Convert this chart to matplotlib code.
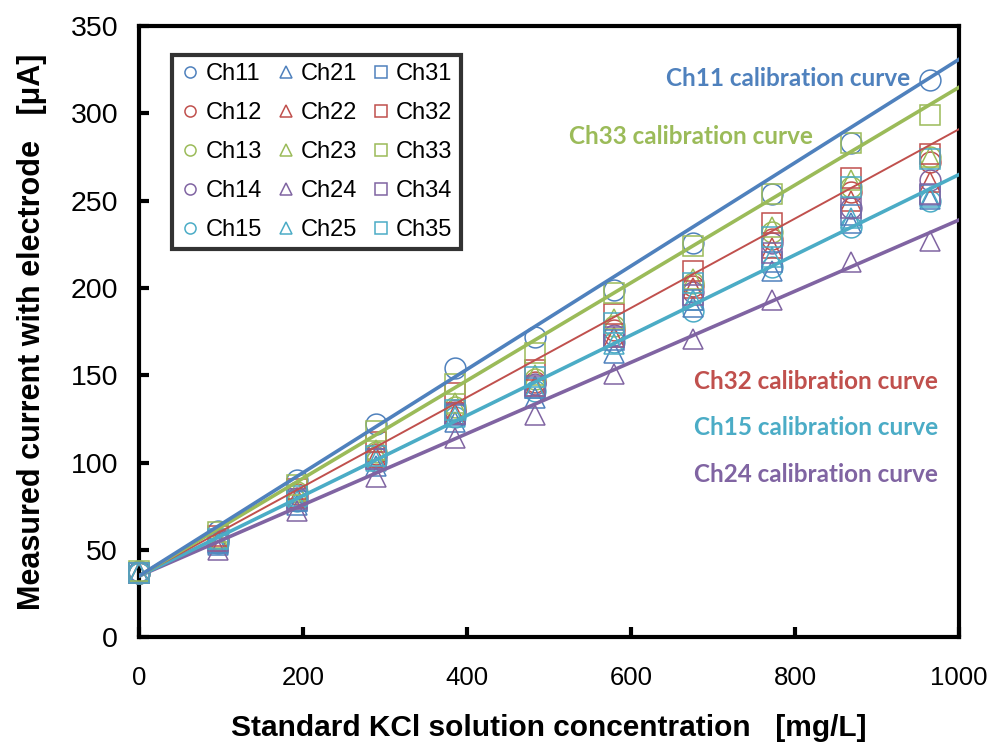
import matplotlib
matplotlib.use("Agg")
import matplotlib.pyplot as plt
from matplotlib.lines import Line2D

conc = [0, 96.5, 193, 289.5, 386, 482.5, 579, 675.5, 772, 868.5, 965]

ch11 = [38, 61, 90, 122, 154, 172, 199, 226, 254, 283, 319]
ch12 = [37, 56, 82, 105, 130, 146, 176, 201, 228, 255, 272]
ch13 = [37, 57, 83, 106, 132, 148, 178, 203, 232, 258, 275]
ch14 = [37, 55, 80, 103, 129, 145, 173, 198, 226, 246, 262]
ch15 = [37, 54, 78, 101, 126, 141, 169, 187, 212, 235, 250]
ch21 = [37, 53, 76, 98, 123, 137, 163, 189, 210, 237, 251]
ch22 = [37, 55, 80, 103, 128, 144, 172, 200, 223, 250, 261]
ch23 = [37, 57, 84, 107, 134, 150, 182, 205, 235, 262, 275]
ch24 = [37, 50, 72, 92, 114, 127, 151, 171, 193, 215, 227]
ch25 = [37, 54, 78, 101, 126, 143, 168, 193, 218, 240, 252]
ch31 = [37, 54, 78, 102, 127, 143, 170, 193, 215, 242, 253]
ch32 = [37, 58, 85, 112, 140, 153, 185, 210, 237, 263, 277]
ch33 = [38, 60, 87, 118, 145, 163, 197, 224, 254, 283, 299]
ch34 = [37, 55, 79, 102, 128, 144, 172, 196, 220, 246, 254]
ch35 = [37, 56, 81, 104, 130, 149, 180, 203, 229, 258, 274]

series_names = ["Ch11", "Ch12", "Ch13", "Ch14", "Ch15",
                "Ch21", "Ch22", "Ch23", "Ch24", "Ch25",
                "Ch31", "Ch32", "Ch33", "Ch34", "Ch35"]
series_values = [ch11, ch12, ch13, ch14, ch15,
                 ch21, ch22, ch23, ch24, ch25,
                 ch31, ch32, ch33, ch34, ch35]

# calibration curves (endpoints at x = 0 and 1000)
line_x = [0, 1000]
line_ch11 = [35, 331]
line_ch33 = [35, 315]
line_ch32 = [35, 291]
line_ch15 = [35, 265]
line_ch24 = [35, 239]

x_ticks = [0, 200, 400, 600, 800, 1000]
y_ticks = [0, 50, 100, 150, 200, 250, 300, 350]

BLUE = "#4F81BD"
RED = "#C0504D"
GREEN = "#9BBB59"
PURPLE = "#8064A2"
CYAN = "#4BACC6"
colors = [BLUE, RED, GREEN, PURPLE, CYAN]
markers = ["o", "^", "s"]

fig = plt.figure(figsize=(9.99, 7.47), dpi=100)
ax = fig.add_axes([0.139, 0.147, 0.821, 0.818])

handles = []
for i, (name, vals) in enumerate(zip(series_names, series_values)):
    m = markers[i // 5]
    c = colors[i % 5]
    ax.plot(conc, vals, linestyle="none", marker=m, markersize=15,
            markerfacecolor="none", markeredgecolor=c, markeredgewidth=1.1,
            zorder=3, clip_on=False)
    handles.append(Line2D([], [], linestyle="none", marker=m, markersize=8,
                          markerfacecolor="none", markeredgecolor=c,
                          markeredgewidth=1.1, label=name))

ax.plot(line_x, line_ch24, color=PURPLE, lw=2.6, zorder=4)
ax.plot(line_x, line_ch15, color=CYAN, lw=2.6, zorder=4)
ax.plot(line_x, line_ch32, color=RED, lw=1.4, zorder=4)
ax.plot(line_x, line_ch33, color=GREEN, lw=2.6, zorder=4)
ax.plot(line_x, line_ch11, color=BLUE, lw=2.6, zorder=4)

ax.set_xlim(0, 1000)
ax.set_ylim(0, 350)
ax.set_xticks(x_ticks)
ax.set_yticks(y_ticks)

ax.set_yticklabels([str(t) for t in y_ticks],
                   fontfamily="Liberation Sans", fontsize=20.5)
ax.set_xticklabels([str(t) for t in x_ticks],
                   fontfamily="Liberation Sans", fontsize=18.5)
ax.tick_params(direction="in", length=7, width=3)
ax.tick_params(axis="y", pad=15)
ax.tick_params(axis="x", pad=21)
for sp in ax.spines.values():
    sp.set_linewidth(3)
    sp.set_color("black")

ax.set_xlabel("Standard KCl solution concentration   [mg/L]",
              fontfamily="Liberation Sans",
              fontweight="bold", fontsize=21.5, labelpad=17)
ax.set_ylabel("Measured current with electrode   [\u03bcA]",
              fontfamily="Liberation Sans",
              fontweight="bold", fontsize=22, labelpad=17)

ann_font = ["Lato", "DejaVu Sans"]
ann_size = 17.5
ax.text(940, 320, "Ch11 calibration curve", color=BLUE, ha="right", va="center",
        fontsize=ann_size, fontweight="bold", fontfamily=ann_font, zorder=5)
ax.text(525, 287, "Ch33 calibration curve", color=GREEN, ha="left", va="center",
        fontsize=ann_size, fontweight="bold", fontfamily=ann_font, zorder=5)
ax.text(677, 146.5, "Ch32 calibration curve", color=RED, ha="left", va="center",
        fontsize=ann_size, fontweight="bold", fontfamily=ann_font, zorder=5)
ax.text(677, 120, "Ch15 calibration curve", color=CYAN, ha="left", va="center",
        fontsize=ann_size, fontweight="bold", fontfamily=ann_font, zorder=5)
ax.text(677, 93, "Ch24 calibration curve", color=PURPLE, ha="left", va="center",
        fontsize=ann_size, fontweight="bold", fontfamily=ann_font, zorder=5)

leg = ax.legend(handles=handles, ncol=3, loc="upper left",
                bbox_to_anchor=(0.041, 0.953), borderaxespad=0,
                prop={"family": "Liberation Sans", "size": 17},
                frameon=True, fancybox=False, handlelength=0.8,
                handletextpad=0.25, columnspacing=0.6, labelspacing=0.72,
                borderpad=0.35)
leg.get_frame().set_edgecolor("black")
leg.get_frame().set_linewidth(3)
leg.set_zorder(6)

fig.savefig("out.png", dpi=100)
